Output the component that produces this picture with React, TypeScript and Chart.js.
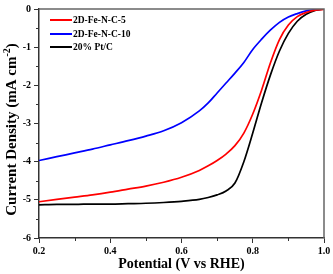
import React, { useEffect, useRef } from "react";
import { Chart, registerables } from "chart.js";

Chart.register(...registerables);

const potential = [0.2, 0.25, 0.3, 0.35, 0.4, 0.45, 0.5, 0.55, 0.6, 0.65, 0.675, 0.7, 0.725, 0.75, 0.775, 0.8, 0.825, 0.85, 0.875, 0.9, 0.925, 0.95, 0.975, 1.0];
const feNC5 = [-5.05, -4.99, -4.93, -4.87, -4.8, -4.72, -4.64, -4.54, -4.41, -4.23, -4.11, -3.97, -3.8, -3.58, -3.25, -2.75, -2.12, -1.4, -0.8, -0.42, -0.2, -0.09, -0.03, -0.01];
const feNC10 = [-3.97, -3.87, -3.77, -3.67, -3.56, -3.45, -3.33, -3.19, -2.98, -2.67, -2.46, -2.2, -1.94, -1.68, -1.4, -1.06, -0.79, -0.55, -0.35, -0.21, -0.12, -0.05, -0.02, 0];
const ptC = [-5.13, -5.12, -5.12, -5.11, -5.11, -5.1, -5.09, -5.07, -5.04, -4.99, -4.94, -4.87, -4.77, -4.56, -4.0, -3.25, -2.45, -1.72, -1.1, -0.64, -0.32, -0.14, -0.04, 0];
const seriesNames = ["2D-Fe-N-C-5", "2D-Fe-N-C-10", "20% Pt/C"];
const seriesColors = ["#ff0000", "#0000ff", "#000000"];
const xTicks = [0.2, 0.4, 0.6, 0.8, 1.0];
const xMinorTicks = [0.3, 0.5, 0.7, 0.9];
const yTicks = [0, -1, -2, -3, -4, -5, -6];
const yMinorTicks = [-0.5, -1.5, -2.5, -3.5, -4.5, -5.5];
const xTitle = "Potential (V vs RHE)";
const yTitleMain = "Current Density (mA cm";
const yTitleSup = "-2";
const yTitleEnd = ")";

const FONT = "'Liberation Serif', 'Times New Roman', serif";

const decorPlugin = {
  id: "decor",
  afterDraw(chart: any) {
    const { ctx, chartArea } = chart;
    const xs = chart.scales.x;
    const ys = chart.scales.y;
    ctx.save();
    // top & right border
    ctx.strokeStyle = "#666";
    ctx.lineWidth = 1.5;
    ctx.beginPath();
    ctx.moveTo(chartArea.left, chartArea.top);
    ctx.lineTo(chartArea.right, chartArea.top);
    ctx.lineTo(chartArea.right, chartArea.bottom);
    ctx.stroke();
    // minor ticks
    ctx.strokeStyle = "#333";
    ctx.lineWidth = 1;
    ctx.beginPath();
    xMinorTicks.forEach((v) => {
      const px = Math.round(xs.getPixelForValue(v)) + 0.5;
      ctx.moveTo(px, chartArea.bottom);
      ctx.lineTo(px, chartArea.bottom + 3);
    });
    yMinorTicks.forEach((v) => {
      const py = Math.round(ys.getPixelForValue(v)) + 0.5;
      ctx.moveTo(chartArea.left, py);
      ctx.lineTo(chartArea.left - 3, py);
    });
    ctx.stroke();
    // x title
    ctx.fillStyle = "#000";
    ctx.font = `bold 14px ${FONT}`;
    ctx.textAlign = "center";
    ctx.textBaseline = "middle";
    ctx.fillText(xTitle, (chartArea.left + chartArea.right) / 2, 264);
    // y title with superscript
    ctx.save();
    const cy = (chartArea.top + chartArea.bottom) / 2 + 6;
    ctx.translate(12, cy);
    ctx.rotate(-Math.PI / 2);
    ctx.font = `bold 15px ${FONT}`;
    const wMain = ctx.measureText(yTitleMain).width;
    const wEnd = ctx.measureText(yTitleEnd).width;
    ctx.font = `bold 10px ${FONT}`;
    const wSup = ctx.measureText(yTitleSup).width;
    const total = wMain + wSup + wEnd;
    let x0 = -total / 2;
    ctx.textAlign = "left";
    ctx.font = `bold 15px ${FONT}`;
    ctx.fillText(yTitleMain, x0, 0);
    x0 += wMain;
    ctx.font = `bold 10px ${FONT}`;
    ctx.fillText(yTitleSup, x0, -5);
    x0 += wSup;
    ctx.font = `bold 15px ${FONT}`;
    ctx.fillText(yTitleEnd, x0, 0);
    ctx.restore();
    // legend
    ctx.font = `bold 9.5px ${FONT}`;
    ctx.textAlign = "left";
    ctx.textBaseline = "middle";
    const rows = [20, 34, 47];
    seriesNames.forEach((name, i) => {
      ctx.strokeStyle = seriesColors[i];
      ctx.lineWidth = 2;
      ctx.beginPath();
      ctx.moveTo(50, rows[i]);
      ctx.lineTo(72, rows[i]);
      ctx.stroke();
      ctx.fillStyle = "#000";
      ctx.fillText(name, 73, rows[i] + 0.5);
    });
    ctx.restore();
  },
};

export default function App() {
  const ref = useRef<HTMLCanvasElement | null>(null);
  useEffect(() => {
    document.body.style.margin = "0";
    const canvas = ref.current;
    if (!canvas) return;
    const seriesValues = [feNC5, feNC10, ptC];
    const chart = new Chart(canvas, {
      type: "line",
      data: {
        datasets: seriesNames.map((name, i) => ({
          label: name,
          data: potential.map((x, j) => ({ x, y: seriesValues[i][j] })),
          borderColor: seriesColors[i],
          borderWidth: 1.7,
          pointRadius: 0,
          cubicInterpolationMode: "monotone" as const,
          fill: false,
        })),
      },
      options: {
        animation: false,
        responsive: false,
        devicePixelRatio: 1,
        layout: { padding: { top: 8, right: 9, left: 0, bottom: 0 } },
        plugins: { legend: { display: false }, tooltip: { enabled: false }, title: { display: false } },
        scales: {
          x: {
            type: "linear",
            min: 0.2,
            max: 1.0,
            afterFit: (s: any) => { s.height = 36; },
            afterBuildTicks: (s: any) => { s.ticks = xTicks.map((v) => ({ value: v })); },
            ticks: {
              callback: (v: any) => Number(v).toFixed(1),
              font: { family: FONT, weight: "bold", size: 10 },
              color: "#000",
              padding: 2,
              maxRotation: 0,
            },
            grid: { drawOnChartArea: false, drawTicks: true, tickLength: 5, color: "#333", lineWidth: 1 },
            border: { color: "#333", width: 1.5 },
          },
          y: {
            type: "linear",
            min: -6,
            max: 0,
            afterFit: (s: any) => { s.width = 39; },
            afterBuildTicks: (s: any) => { s.ticks = yTicks.map((v) => ({ value: v })); },
            ticks: {
              callback: (v: any) => String(v),
              font: { family: FONT, weight: "bold", size: 10 },
              color: "#000",
              padding: 3,
            },
            grid: { drawOnChartArea: false, drawTicks: true, tickLength: 5, color: "#333", lineWidth: 1 },
            border: { color: "#333", width: 1.5 },
          },
        },
      },
      plugins: [decorPlugin],
    });
    return () => chart.destroy();
  }, []);
  return (
    <div style={{ position: "absolute", left: 0, top: 0, width: 333, height: 274, background: "#fff" }}>
      <canvas ref={ref} width={333} height={274} style={{ width: 333, height: 274, display: "block" }} />
    </div>
  );
}
